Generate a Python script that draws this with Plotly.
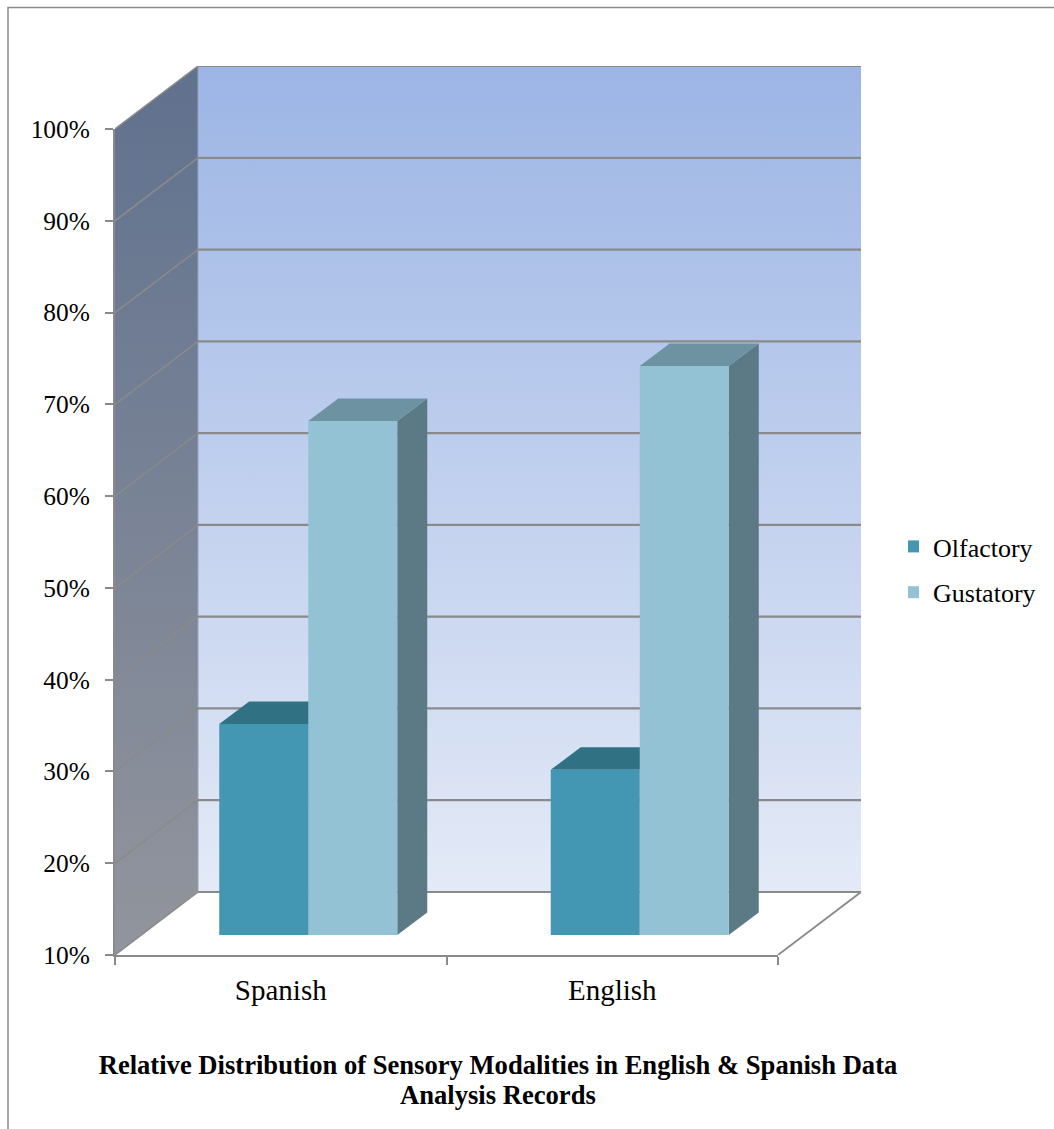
import plotly.graph_objects as go

categories = ["Spanish", "English"]
olfactory = [33, 28]
gustatory = [66, 72]
y_ticks = [10, 20, 30, 40, 50, 60, 70, 80, 90, 100]
y_tick_labels = ["10%", "20%", "30%", "40%", "50%", "60%", "70%", "80%", "90%", "100%"]
title_lines = ["Relative Distribution of Sensory Modalities in English &amp; Spanish Data", "Analysis Records"]

W, H = 1054, 1129
L, R, T, B = 115, 778, 129, 955          # front plane of the box, px
WALL_DX, WALL_DY = 83, 63                # box depth, px
BAR_DX, BAR_DY = 27.5, 20                # where the bars stand inside the box, px
FACE_DX, FACE_DY = 30, 22.5              # depth of each bar, px
GAP = 0.463
GRID = "#8a8a8a"
OLF = ["#4397b2", "#307283", "#2c6473"]
GUS = ["#93c2d4", "#6d93a2", "#5b7a85"]
SERIF = "Liberation Serif, Times New Roman, serif"

ncat = len(categories)
ymin, ymax = y_ticks[0], y_ticks[-1]
px_x = (R - L) / ncat                    # px per category
px_y = (B - T) / (ymax - ymin)           # px per percent
ux = lambda p: p / px_x
uy = lambda p: p / px_y
hx = lambda p: p / W
vy = lambda p: (H - p) / H


def poly(xs, ys, color=None, line=None, width=0, gradient=None):
    kw = dict(x=xs, y=ys, xaxis="x", yaxis="y", showlegend=False, hoverinfo="skip", cliponaxis=False)
    if color or gradient:
        kw.update(fill="toself", mode="none" if not line else "lines")
        if gradient:
            kw["fillgradient"] = dict(type="vertical", colorscale=[[0, gradient[0]], [1, gradient[1]]])
        else:
            kw["fillcolor"] = color
    else:
        kw["mode"] = "lines"
    if line:
        kw["line"] = dict(color=line, width=width)
    return go.Scatter(**kw)


fig = go.Figure()
wx, wy = ux(WALL_DX), uy(WALL_DY)
xr = ncat + wx

# back wall and side wall
fig.add_trace(poly([wx, xr, xr, wx, wx], [ymin + wy, ymin + wy, ymax + wy, ymax + wy, ymin + wy],
                   gradient=("#e4eaf7", "#9cb5e5")))
fig.add_trace(poly([0, wx, wx, 0, 0], [ymin, ymin + wy, ymax + wy, ymax, ymin],
                   gradient=("#92959d", "#60718e")))
fig.add_trace(poly([wx, wx], [ymin + wy, ymax + wy], line="#9aa3b5", width=1))
# grid: thin on the side wall, heavier on the back wall
for v in y_ticks:
    fig.add_trace(poly([0, wx], [v, v + wy], line=GRID, width=1.5))
    fig.add_trace(poly([wx, xr], [v + wy, v + wy], line=GRID, width=2.2))
fig.add_trace(poly([xr, ncat], [ymin + wy, ymin], line=GRID, width=1.8))

# top and side faces of the bars
bw = (1 - GAP) / 2
dx0, dy0 = ux(BAR_DX), uy(BAR_DY)
fx, fy = ux(FACE_DX), uy(FACE_DY)
for k, (vals, cols) in enumerate([(olfactory, OLF), (gustatory, GUS)]):
    for i, v in enumerate(vals):
        x0 = i + 0.5 - bw + k * bw + dx0
        x1 = x0 + bw
        y0 = ymin + dy0
        y1 = v + dy0
        fig.add_trace(poly([x1, x1 + fx, x1 + fx, x1, x1], [y0, y0 + fy, y1 + fy, y1, y0], color=cols[2]))
        fig.add_trace(poly([x0, x1, x1 + fx, x0 + fx, x0], [y1, y1, y1 + fy, y1 + fy, y1], color=cols[1]))

# keeps the visible front axes alive (they carry no marks of their own)
fig.add_trace(go.Scatter(x=[0], y=[ymin], xaxis="x2", yaxis="y2", mode="markers", marker=dict(opacity=0),
                         showlegend=False, hoverinfo="skip"))

# front faces: real bars on an inset pair of axes
for name, vals, cols in [("Olfactory", olfactory, OLF), ("Gustatory", gustatory, GUS)]:
    fig.add_trace(go.Bar(x=[i + 0.5 for i in range(ncat)], y=vals, name=name, legendgroup=name,
                         marker=dict(color=cols[0], line=dict(width=0)), xaxis="x3", yaxis="y3"))

fig.update_layout(
    width=W, height=H, autosize=False,
    margin=dict(l=0, r=0, t=0, b=0, autoexpand=False),
    paper_bgcolor="white", plot_bgcolor="rgba(0,0,0,0)",
    barmode="group", bargap=GAP, bargroupgap=0,
    font=dict(family=SERIF, color="black"),
    title=dict(text=title_lines[0], x=498 / W, xanchor="center", y=vy(1065), yanchor="middle",
               font=dict(family=SERIF, size=26.6, color="black", weight="bold")),
    annotations=[dict(text=title_lines[1], xref="paper", yref="paper", x=498 / W, y=vy(1095),
                      xanchor="center", yanchor="middle", showarrow=False,
                      font=dict(family=SERIF, size=26.6, color="black", weight="bold"))],
    legend=dict(x=hx(908), y=vy(523), xanchor="left", yanchor="top", font=dict(size=26),
                bgcolor="rgba(0,0,0,0)", tracegroupgap=9, traceorder="grouped", indentation=-15),
    xaxis=dict(domain=[hx(L), hx(R + WALL_DX)], range=[0, xr], visible=False, automargin=False),
    yaxis=dict(domain=[vy(B), vy(T - WALL_DY)], range=[ymin, ymax + wy], visible=False, automargin=False),
    xaxis2=dict(domain=[hx(L), hx(R)], range=[0, ncat], anchor="y2", automargin=False,
                tickmode="array", tickvals=[i + 0.5 for i in range(ncat)], ticktext=categories,
                ticks="", showgrid=False, zeroline=False, showline=True, linecolor=GRID, linewidth=2,
                tickfont=dict(size=29), ticklabelstandoff=8,
                minor=dict(tickmode="array", tickvals=list(range(ncat + 1)), ticks="outside",
                           ticklen=8, tickwidth=2, tickcolor=GRID, showgrid=False)),
    yaxis2=dict(domain=[vy(B), vy(T)], range=[ymin, ymax], anchor="x2", automargin=False,
                tickmode="array", tickvals=y_ticks, ticktext=y_tick_labels,
                ticks="outside", ticklen=8, tickwidth=2, tickcolor=GRID,
                showgrid=False, zeroline=False, showline=True, linecolor=GRID, linewidth=2,
                tickfont=dict(size=25.4), ticklabelstandoff=10),
    xaxis3=dict(domain=[hx(L + BAR_DX), hx(R + BAR_DX)], range=[0, ncat], anchor="y3", visible=False, automargin=False),
    yaxis3=dict(domain=[vy(B - BAR_DY), vy(T - BAR_DY)], range=[ymin, ymax], anchor="x3", visible=False, automargin=False),
    shapes=[dict(type="path", xref="paper", yref="paper",
                 path=f"M 1,{vy(7.5)} L {hx(8)},{vy(7.5)} L {hx(8)},0",
                 line=dict(color="#8c8c8c", width=1.5))],
)
fig.write_html("out.html", config={"displayModeBar": False},
               post_script="document.body.style.margin='0';document.documentElement.style.overflow='hidden';")
